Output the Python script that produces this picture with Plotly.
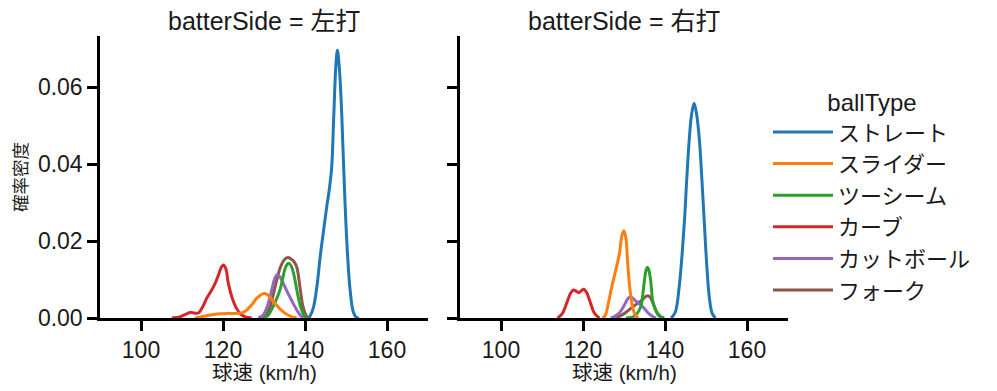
import plotly.graph_objects as go

ball_types = ["ストレート", "スライダー", "ツーシーム", "カーブ", "カットボール", "フォーク"]
colors = ["#1f77b4", "#ff7f0e", "#2ca02c", "#d62728", "#9467bd", "#8c564b"]
sides = ["左打", "右打"]

# KDE curves: speed (km/h) and density, per batter side
left_x = {
    "ストレート": [141.0, 142.0, 143.0, 143.7, 144.5, 145.3, 146.0, 146.5, 147.0, 147.5, 147.9, 148.3, 148.8, 149.3, 149.8, 150.4, 151.0, 151.8, 152.6, 153.2],
    "スライダー": [113.2, 115.0, 117.0, 119.0, 121.0, 123.0, 124.5, 125.5, 126.6, 127.5, 128.2, 129.2, 130.0, 130.8, 131.5, 132.3, 133.5, 134.7, 136.0, 137.0, 138.0],
    "ツーシーム": [129.8, 131.0, 132.0, 133.0, 133.9, 134.6, 135.3, 136.0, 136.7, 137.3, 138.0, 138.6, 139.2, 139.8, 140.4],
    "カーブ": [107.5, 109.5, 111.0, 112.0, 113.0, 114.0, 115.0, 116.0, 117.0, 118.0, 118.9, 119.6, 120.1, 120.7, 121.3, 122.3, 123.3, 124.3, 125.4, 127.0],
    "カットボール": [128.6, 129.8, 130.8, 131.9, 132.6, 133.3, 134.0, 134.7, 135.5, 136.3, 137.2, 138.0, 138.8, 139.6],
    "フォーク": [129.5, 130.5, 131.5, 132.3, 133.1, 134.0, 135.0, 135.9, 136.6, 137.3, 138.0, 138.8, 139.5, 140.2, 140.8],
}
left_y = {
    "ストレート": [0, 0.0025, 0.009, 0.0159, 0.0225, 0.0289, 0.034, 0.039, 0.052, 0.065, 0.0696, 0.066, 0.057, 0.043, 0.029, 0.016, 0.0073, 0.0015, 0.0001, 0],
    "スライダー": [0, 0.0004, 0.0008, 0.0011, 0.0012, 0.0012, 0.0013, 0.0018, 0.0029, 0.0041, 0.0051, 0.006, 0.0064, 0.0061, 0.0054, 0.0043, 0.0028, 0.0016, 0.0007, 0.0002, 0],
    "ツーシーム": [0, 0.0007, 0.0025, 0.0048, 0.0073, 0.0105, 0.0133, 0.0142, 0.0134, 0.0112, 0.0073, 0.0042, 0.002, 0.0006, 0],
    "カーブ": [0, 0.0003, 0.001, 0.0014, 0.0013, 0.0013, 0.0028, 0.0051, 0.0068, 0.0088, 0.0112, 0.0132, 0.0138, 0.0128, 0.009, 0.005, 0.0025, 0.001, 0.0003, 0],
    "カットボール": [0, 0.0008, 0.003, 0.0073, 0.0102, 0.0113, 0.0105, 0.009, 0.0072, 0.0055, 0.0036, 0.0021, 0.0008, 0],
    "フォーク": [0, 0.0008, 0.003, 0.0062, 0.0099, 0.0132, 0.0152, 0.0157, 0.0153, 0.0147, 0.0132, 0.0078, 0.003, 0.0008, 0],
}
right_x = {
    "ストレート": [141.5, 142.5, 143.5, 144.7, 145.3, 145.9, 146.5, 147.1, 147.7, 148.4, 149.0, 149.6, 150.2, 150.8, 151.5, 152.3],
    "スライダー": [124.8, 125.5, 126.0, 127.0, 128.0, 128.9, 129.5, 130.0, 130.5, 130.9, 131.5, 132.1, 132.7, 133.5],
    "ツーシーム": [130.5, 132.0, 133.2, 134.1, 134.6, 135.0, 135.4, 135.7, 136.0, 136.5, 137.0, 137.6, 138.2, 139.0, 139.8],
    "カーブ": [113.8, 115.0, 116.0, 117.0, 117.7, 118.4, 119.0, 119.6, 120.2, 120.9, 121.8, 122.8, 124.0],
    "カットボール": [126.8, 128.0, 129.0, 130.0, 130.8, 131.5, 132.2, 133.0, 134.1, 135.0, 136.0, 137.0, 137.8],
    "フォーク": [127.6, 129.0, 130.5, 132.0, 133.3, 134.5, 135.3, 135.9, 136.5, 137.3, 138.2, 139.0, 139.8],
}
right_y = {
    "ストレート": [0, 0.0015, 0.0085, 0.0246, 0.036, 0.0462, 0.053, 0.0558, 0.053, 0.0462, 0.036, 0.0246, 0.0135, 0.0055, 0.0012, 0],
    "スライダー": [0, 0.0008, 0.0029, 0.008, 0.0125, 0.0168, 0.0215, 0.0227, 0.0205, 0.0142, 0.007, 0.0029, 0.0008, 0],
    "ツーシーム": [0, 0.0002, 0.0012, 0.003, 0.0062, 0.0099, 0.0125, 0.0132, 0.0127, 0.0098, 0.0045, 0.0024, 0.001, 0.0002, 0],
    "カーブ": [0, 0.0012, 0.0038, 0.0065, 0.0073, 0.0069, 0.0066, 0.0071, 0.0075, 0.0066, 0.004, 0.0012, 0],
    "カットボール": [0, 0.0006, 0.0015, 0.0032, 0.0048, 0.0055, 0.0051, 0.0043, 0.0034, 0.0024, 0.0012, 0.0004, 0],
    "フォーク": [0, 0.0005, 0.0015, 0.0028, 0.0038, 0.0048, 0.0056, 0.0058, 0.0052, 0.0032, 0.0012, 0.0003, 0],
}
x_ticks = [100, 120, 140, 160]
y_ticks = [0.00, 0.02, 0.04, 0.06]

FONT = "Noto Sans CJK JP, Noto Sans, sans-serif"
LATIN = "Liberation Sans, Noto Sans CJK JP, sans-serif"
W, H = 997, 391
OFF = 8  # page body margin offset


def px(x):
    return (x - OFF) / W


def py(y):
    return 1 - (y - OFF) / H


fig = go.Figure()
for i in reversed(range(len(ball_types))):
    bt = ball_types[i]
    line = dict(color=colors[i], width=3, shape="spline", smoothing=1.0)
    fig.add_trace(go.Scatter(x=left_x[bt], y=left_y[bt], mode="lines", name=bt, line=line,
                             legendgroup=bt, legendrank=i + 1, showlegend=True, xaxis="x", yaxis="y"))
    fig.add_trace(go.Scatter(x=right_x[bt], y=right_y[bt], mode="lines", name=bt, line=line,
                             legendgroup=bt, legendrank=i + 1, showlegend=False, xaxis="x2", yaxis="y2"))

ydom = [py(318), py(36)]
axis_common = dict(showgrid=False, zeroline=False, showline=True, linecolor="black", linewidth=2.5,
                   ticks="outside", ticklen=10, tickwidth=2.5, tickcolor="black", automargin=False,
                   tickfont=dict(family=LATIN, size=23, color="#1a1a1a"))
fig.update_layout(
    width=W, height=H,
    margin=dict(l=0, r=0, t=0, b=0, autoexpand=False),
    paper_bgcolor="white", plot_bgcolor="white",
    font=dict(family=FONT, color="#1a1a1a"),
    xaxis=dict(domain=[px(100), px(428)], range=[90, 170], tickvals=x_ticks, **axis_common),
    xaxis2=dict(domain=[px(460), px(788)], range=[90, 170], tickvals=x_ticks, anchor="y2", **axis_common),
    yaxis=dict(domain=ydom, range=[0, 0.0733], tickvals=y_ticks, tickformat=".2f", **axis_common),
    yaxis2=dict(domain=ydom, range=[0, 0.0733], tickvals=y_ticks, showticklabels=False, anchor="x2", **axis_common),
    legend=dict(x=px(768), y=py(80), xanchor="left", yanchor="top",
                traceorder="normal", itemwidth=60,
                font=dict(family=FONT, size=22, color="#1a1a1a"),
                title=dict(text="ballType", side="top center", font=dict(family=LATIN, size=24)),
                bgcolor="rgba(0,0,0,0)"),
)

annots = [
    dict(text="batterSide = " + sides[0], x=px(264), y=py(21), font=dict(size=25, family=LATIN)),
    dict(text="batterSide = " + sides[1], x=px(624), y=py(21), font=dict(size=25, family=LATIN)),
    dict(text="球速 (km/h)", x=px(264), y=py(372), font=dict(size=20.5, family=LATIN)),
    dict(text="球速 (km/h)", x=px(624), y=py(372), font=dict(size=20.5, family=LATIN)),
    dict(text="確率密度", x=px(19), y=py(177), font=dict(size=17.5, family=FONT), textangle=-90),
]
for a in annots:
    a.update(xref="paper", yref="paper", showarrow=False, xanchor="center", yanchor="middle")
    a["font"].update(color="#1a1a1a")
    fig.add_annotation(**a)

fig.write_html("out.html")
